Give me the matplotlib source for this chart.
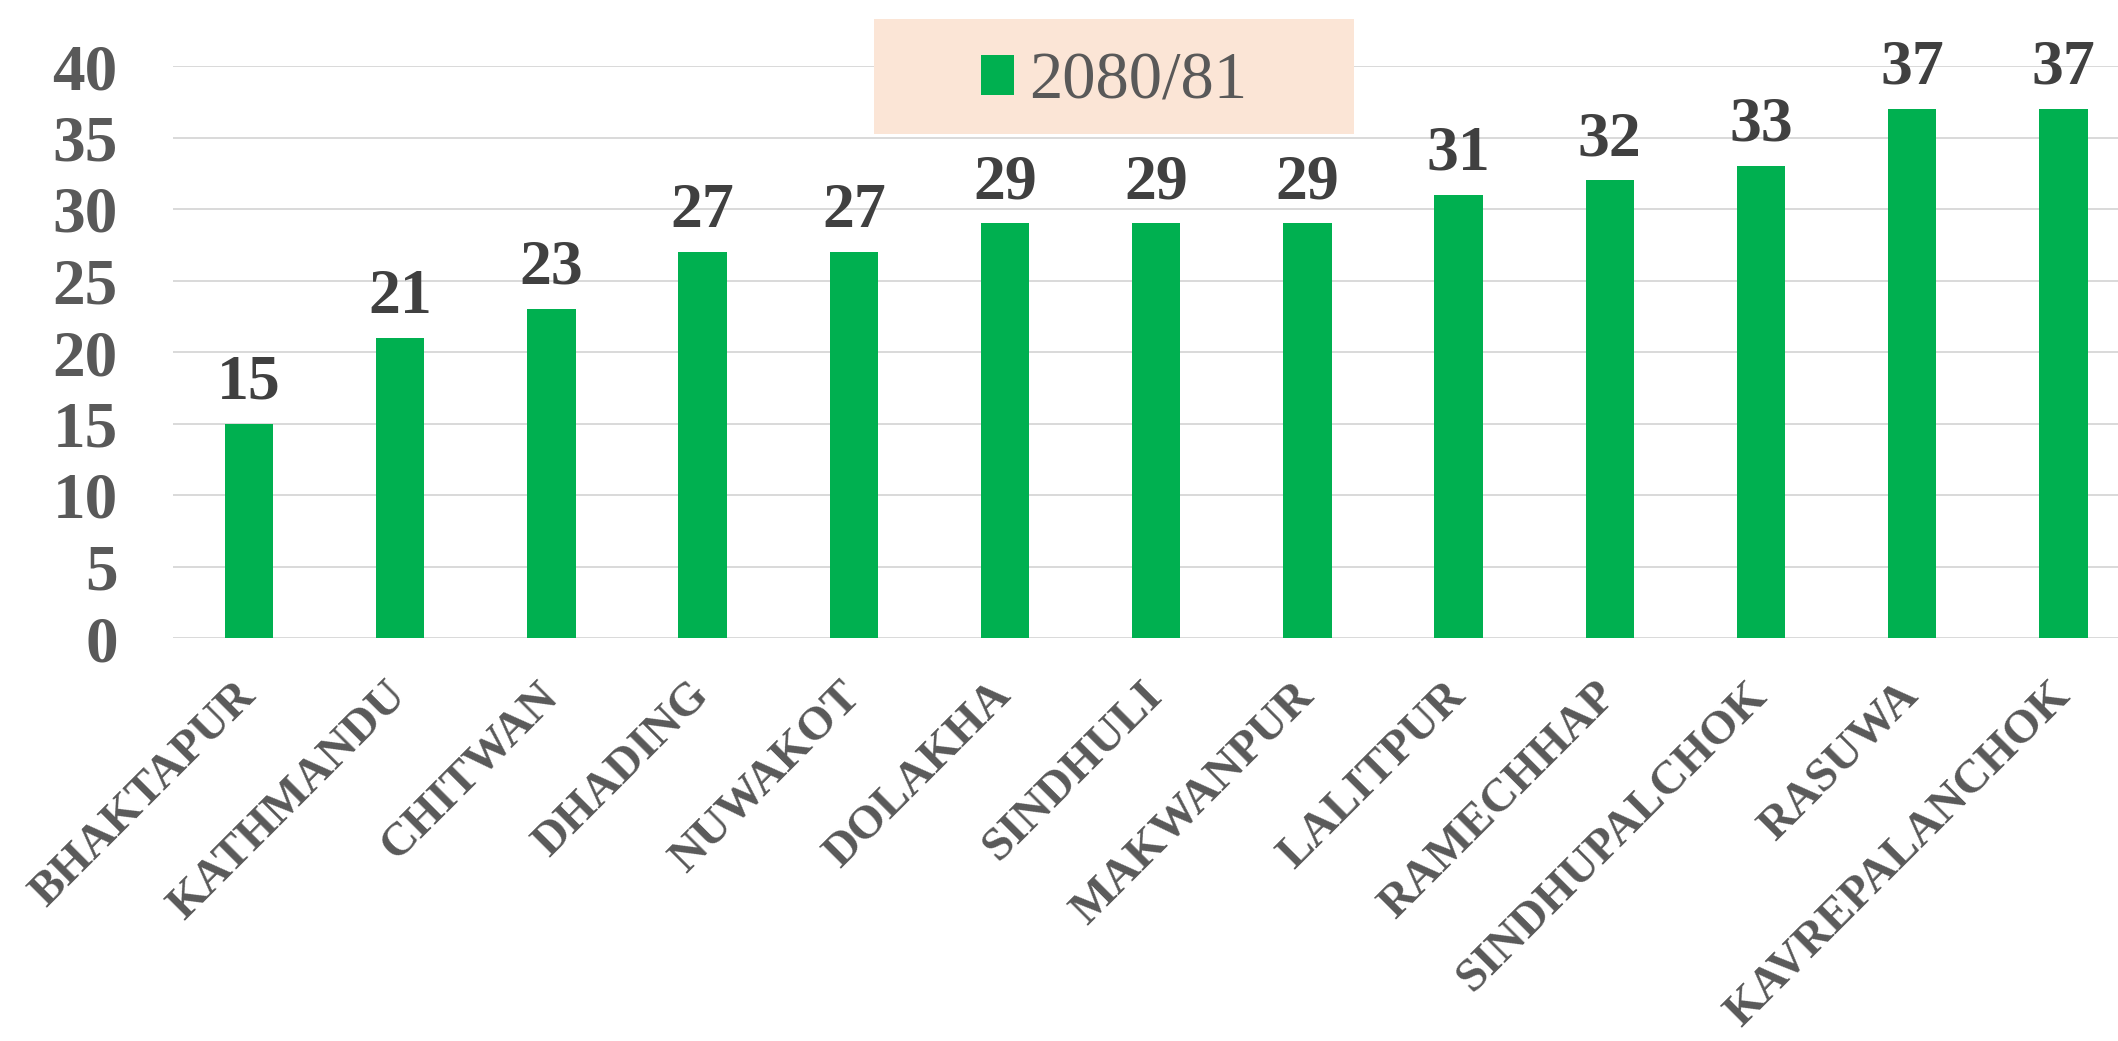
import matplotlib
matplotlib.use("Agg")
import matplotlib.pyplot as plt
from matplotlib.patches import Rectangle

districts = ["BHAKTAPUR", "KATHMANDU", "CHITWAN", "DHADING", "NUWAKOT", "DOLAKHA",
             "SINDHULI", "MAKWANPUR", "LALITPUR", "RAMECHHAP", "SINDHUPALCHOK",
             "RASUWA", "KAVREPALANCHOK"]
values_2080_81 = [15, 21, 23, 27, 27, 29, 29, 29, 31, 32, 33, 37, 37]
series_name = "2080/81"
y_ticks = [0, 5, 10, 15, 20, 25, 30, 35, 40]

FONT = "Liberation Serif"
W, H = 2118, 1041
fig = plt.figure(figsize=(W / 100, H / 100), dpi=100)
fig.patch.set_facecolor("white")

left_px, right_px, top_px, bot_px = 173.4, 2139, 66, 638
ax = fig.add_axes([left_px / W, 1 - bot_px / H, (right_px - left_px) / W, (bot_px - top_px) / H])

x = list(range(len(districts)))
bars = ax.bar(x, values_2080_81, width=0.32, color="#00B050", label=series_name, zorder=3)

ax.set_xlim(-0.5, len(districts) - 0.5)
ax.set_ylim(0, 40)
ax.set_yticks(y_ticks)
ax.set_yticklabels([str(t) for t in y_ticks], fontfamily=FONT, fontweight="bold",
                   fontsize=47, color="#595959")
ax.tick_params(axis="y", length=0, pad=40)
ax.grid(axis="y", color="#D9D9D9", linewidth=1.4, zorder=0)
for s in ax.spines.values():
    s.set_visible(False)

ax.set_xticks(x)
ax.set_xticklabels(districts, rotation=45, ha="right", va="center", rotation_mode="anchor",
                   fontfamily=FONT, fontweight="bold", fontsize=34, color="#595959")
ax.tick_params(axis="x", length=0, pad=37)

for xi, v in zip(x, values_2080_81):
    ax.annotate(str(v), (xi, v), xytext=(0, 8), textcoords="offset points",
                ha="center", va="bottom", fontfamily=FONT, fontweight="bold",
                fontsize=46, color="#404040", annotation_clip=False, zorder=4)

# legend background box
fig.patches.append(Rectangle((874 / W, 1 - 134 / H), 480 / W, 115 / H,
                             transform=fig.transFigure, facecolor="#FBE5D6",
                             edgecolor="none", zorder=5))
leg = fig.legend(handles=[bars], labels=[series_name], loc="center",
                 bbox_to_anchor=((874 + 1354) / 2 / W, 1 - 82 / H),
                 frameon=False, prop={"family": FONT, "size": 48},
                 handlelength=0.5, handleheight=0.56, handletextpad=0.22)
for t in leg.get_texts():
    t.set_color("#595959")
leg.set_zorder(6)

fig.savefig("out.png", dpi=100, facecolor="white")
